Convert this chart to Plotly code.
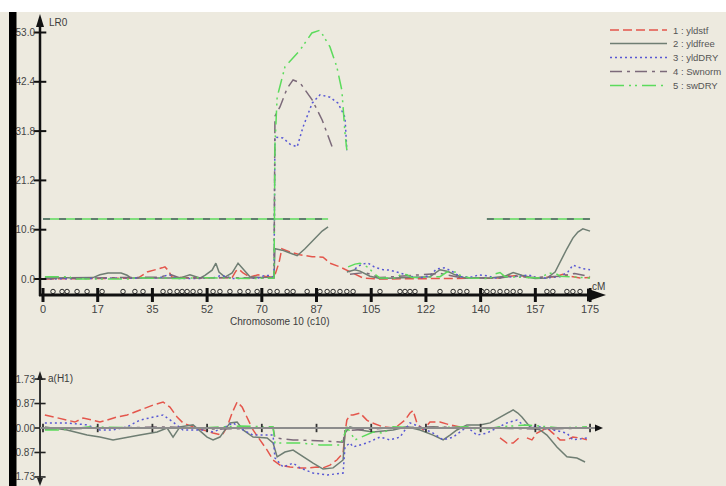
import plotly.graph_objects as go

# ---------------- data ----------------
# marker positions along chromosome 10 (cM)
marker_cm = [3.2, 6.1, 7.7, 10.9, 14.1, 18.9, 25.6, 29.4, 32.0, 38.4, 40.6, 42.9, 44.5,
             46.1, 48.0, 50.2, 54.4, 56.6, 59.8, 63.0, 65.6, 68.5, 72.6, 74.9, 78.1,
             80.0, 84.5, 88.6, 90.9, 92.8, 95.0, 97.2, 99.2, 107.8, 114.2, 115.8, 117.4,
             119.0, 127.0, 131.2, 133.4, 135.6, 140.4, 142.0, 144.0, 146.2, 148.4, 150.4,
             152.6, 161.2, 163.1, 167.6, 169.5, 171.8]

x_tickvals = [0, 17.5, 35, 52.5, 70, 87.5, 105, 122.5, 140, 157.5, 175]
x_ticktext = ["0", "17", "35", "52", "70", "87", "105", "122", "140", "157", "175"]

lr_tickvals = [0.0, 10.6, 21.2, 31.8, 42.4, 53.0]
lr_ticktext = ["0.0", "10.6", "21.2", "31.8", "42.4", "53.0"]

eff_tickvals = [1.73, 0.865, 0.0, -0.865, -1.73]
eff_ticktext = ["1.73", "0.87", "0.00", "-0.87", "-1.73"]

# significance threshold (LR)
thr_cm = [0.0, 91.2, None, 142.0, 175.0]
thr_lr = [12.9, 12.9, None, 12.9, 12.9]

# LR profiles
lr_yldstf_cm = [0.6, 27.8, 30.4, 33.3, 35.8, 38.1, 39.0, 40.0, 41.3, 50.2, 60.5, 61.7, 62.7,
                64.0, 66.2, 68.8, 71.0, 73.3, 74.2, 75.5, 76.4, 79.0, 82.2, 86.1, 89.6, 91.8,
                95.0, 97.2, 99.8, 102.4, 107.8, 146.2, 147.8, 149.4, 152.6, 155.8, 163.8,
                166.3, 168.6, 171.8, 175.0]
lr_yldstf = [0.0, 0.2, 0.2, 1.5, 1.9, 2.4, 2.6, 1.9, 0.4, 0.2, 0.3, 1.7, 2.1,
             1.3, 0.4, 0.9, 0.6, 0.4, 0.9, 3.5, 6.5, 5.8, 5.2, 4.8, 4.7, 3.4,
             2.6, 1.9, 0.9, 0.2, 0.0, 0.2, 0.9, 0.6, 0.8, 0.2, 0.5,
             1.0, 0.6, 0.2, 0.3]

lr_yldfree_cm = [0.6, 16.0, 18.2, 20.8, 23.0, 25.0, 26.9, 28.2, 42.2, 44.1, 47.0, 48.6, 50.2,
                 51.8, 54.1, 55.3, 56.3, 58.2, 60.5, 62.4, 64.0, 66.2, 69.4, 72.6, 73.9,
                 74.2, 76.5, 79.0, 81.3, 83.8, 87.0, 89.3, 91.2, None,
                 97.2, 99.8, 101.4, 104.6, 107.8, 123.8, 127.0, 129.6, 131.8, 135.0, 143.0,
                 147.8, 150.4, 153.2, 157.4, 161.2, 163.8, 166.0, 167.6, 169.5, 171.1, 172.7,
                 174.3, 175.0]
lr_yldfree = [0.2, 0.3, 0.9, 1.3, 1.3, 1.3, 0.8, 0.2, 0.2, 0.3, 0.9, 0.6, 0.2,
              0.8, 1.9, 3.4, 1.5, 0.4, 1.3, 3.4, 2.2, 0.5, 0.3, 0.4, 0.4,
              6.5, 6.2, 5.6, 5.0, 6.5, 8.6, 10.3, 11.2, None,
              1.5, 2.0, 1.7, 0.6, 0.1, 0.5, 2.0, 1.6, 0.9, 0.2, 0.2,
              0.6, 1.4, 0.8, 0.1, 0.2, 1.5, 4.5, 6.5, 8.8, 10.1, 10.8,
              10.5, 10.3]

lr_ylddry_cm = [0.6, 18.2, 37.4, 40.0, 41.3, 42.5, 50.2, 55.0, 56.6, 58.5, 60.5, 68.8, 71.0,
                72.9, 73.9, 74.2, 76.8, 79.0, 81.3, 83.2, 86.1, 88.6, 91.8, 94.4, 96.6, 97.2,
                None, 99.8, 102.0, 104.0, 106.2, 108.8, 111.0, 114.2, 117.4, 120.6, 123.8,
                126.0, 128.6, 131.2, 133.4, 137.6, 139.2, 142.0, 144.6, 152.6, 155.2, 157.4,
                160.6, 165.4, 167.9, 169.5, 171.1, 172.7, 175.0]
lr_ylddry = [0.0, 0.1, 0.3, 0.9, 0.7, 0.1, 0.1, 0.3, 0.7, 0.6, 0.1, 0.2, 0.8,
             0.7, 0.2, 30.5, 30.3, 29.0, 28.4, 32.7, 37.8, 39.6, 39.1, 37.8, 34.8, 27.7,
             None, 2.2, 3.2, 3.4, 2.5, 2.0, 1.9, 1.3, 0.6, 0.2, 0.8,
             2.2, 2.4, 1.5, 0.5, 0.4, 0.9, 0.7, 0.2, 0.6, 0.9, 0.4,
             0.2, 0.5, 1.5, 3.0, 2.6, 2.2, 2.0]

lr_swnorm_cm = [0.6, 37.4, 40.6, 43.8, 58.2, 72.6, 73.9, 74.2, 75.8, 78.1, 80.0, 82.2, 86.1,
                89.3, 92.5, None, 98.2, 103.0, 107.8, 127.0, 133.4, 146.2, 150.9, 155.8,
                165.4, 170.1, 175.0]
lr_swnorm = [0.1, 0.4, 1.0, 0.2, 0.3, 0.3, 0.2, 35.0, 37.0, 41.0, 42.8, 42.2, 38.5,
             34.2, 28.4, None, 1.0, 1.4, 0.3, 1.2, 0.3, 0.2, 0.7, 0.3,
             0.6, 1.2, 0.5]

lr_swdry_cm = [0.6, 8.6, 9.3, 27.8, 30.1, 32.6, 43.8, 50.2, 58.2, 66.2, 73.9, 74.2, 74.9,
               77.4, 82.2, 86.0, 88.6, 91.8, 94.0, 95.6, 96.6, 97.2, None,
               97.6, 99.8, 101.4, 104.0, 106.2, 107.8, 112.6, 114.8, 116.4, 118.0, 127.0,
               129.2, 131.8, 134.0, 136.6, 143.0, 144.6, 146.2, 147.8, 159.0, 161.5, 163.8,
               165.4, 175.0]
lr_swdry = [0.5, 0.5, 0.0, 0.0, 0.3, 0.2, 0.1, 0.3, 0.2, 0.1, 0.2, 28.8, 39.1,
            45.6, 49.2, 52.9, 53.5, 49.9, 45.6, 40.6, 31.4, 27.7, None,
            2.6, 3.2, 3.4, 2.5, 1.0, 0.2, 0.2, 1.1, 0.9, 0.3, 0.5,
            1.5, 1.5, 0.6, 0.2, 0.1, 1.1, 1.4, 0.5, 0.2, 1.2, 1.3,
            0.6, 0.2]

# additive effects a(H1)
eff_yldstf_cm = [0.6, 3.8, 7.7, 10.2, 12.8, 15.7, 18.2, 20.5, 23.7, 26.9, 31.0, 35.2, 38.4,
                 40.6, 42.9, 44.8, 48.0, 51.2, 54.4, 57.3, 58.9, 60.5, 62.1, 63.7, 65.3,
                 67.2, 69.4, 71.7, 73.6, 75.8, 79.0, 82.2, 85.4, 87.7, 89.6, 91.8, 94.0,
                 96.0, 96.6, 97.2, 98.2, 99.2, 101.4, 103.6, 104.6, 106.8, 108.8, 112.6,
                 115.8, 117.4, 118.4, 119.6, 121.6, 123.8, 127.0, 130.2, 133.4, None,
                 146.2, 148.4, 150.4, 152.6, None, 154.8, 156.4, 158.0, 161.2, 163.1,
                 165.4, 167.6, 169.5, 171.8, 174.0]
eff_yldstf = [0.46, 0.39, 0.28, 0.21, 0.35, 0.28, 0.21, 0.28, 0.39, 0.46, 0.64, 0.81, 0.92,
              0.74, 0.39, 0.18, 0.04, -0.07, -0.18, -0.25, 0.04, 0.53, 0.92, 0.74, 0.39,
              -0.07, -0.42, -0.78, -1.13, -1.31, -1.38, -1.41, -1.41, -1.38, -1.41, -1.31,
              -1.13, -0.88, -0.18, 0.28, 0.46, 0.46, 0.53, 0.28, 0.21, 0.11, 0.04, 0.0,
              0.28, 0.53, 0.62, 0.18, -0.07, 0.21, 0.21, 0.11, 0.04, None,
              -0.35, -0.53, -0.53, -0.32, None, -0.35, -0.42, -0.18, 0.0, -0.18,
              -0.42, -0.42, -0.32, -0.35, -0.42]

eff_yldfree_cm = [0.6, 7.7, 14.1, 18.2, 22.4, 26.9, 31.0, 36.5, 39.7, 41.6, 43.8, 48.0,
                  52.5, 54.4, 56.6, 59.8, 62.1, 64.0, 67.2, 71.7, 73.6, 74.9, 77.4, 80.0,
                  83.2, 86.4, 89.6, 92.8, 96.0, 96.6, 98.2, 101.4, 105.6, 112.0, 116.4,
                  120.6, 124.8, 128.0, 130.2, 132.4, 135.6, 139.8, 143.0, 146.2, 148.4,
                  150.4, 151.9, 153.2, 155.8, 159.0, 161.2, 164.4, 167.6, 170.8, 173.4]
eff_yldfree = [0.04, -0.07, -0.25, -0.32, -0.42, -0.32, -0.25, -0.14, 0.0, -0.32, 0.04, 0.11,
               -0.32, -0.42, -0.32, 0.18, 0.21, -0.07, -0.32, -0.35, -0.53, -1.02, -0.85, -0.78,
               -1.02, -1.24, -1.45, -1.41, -1.13, -0.18, 0.04, -0.07, -0.14, -0.07, 0.04,
               -0.07, -0.25, -0.42, -0.25, -0.07, 0.11, 0.11, 0.18, 0.39, 0.53,
               0.64, 0.53, 0.39, 0.04, -0.07, -0.25, -0.67, -1.02, -1.06, -1.20]

eff_ylddry_cm = [0.6, 7.7, 14.1, 18.2, 22.4, 26.9, 31.0, 35.2, 38.4, 41.6, 44.8, 48.0, 51.2,
                 54.4, 57.6, 60.8, 64.0, 67.2, 73.6, 74.2, 76.8, 80.0, 82.2, 86.4, 90.9,
                 96.0, 96.6, 98.2, 99.2, 103.6, 107.8, 111.0, 114.2, 117.4, 120.6, 124.8,
                 128.0, 131.2, 135.6, 138.8, 142.0, 145.2, 148.4, 151.6, 153.6, 159.0,
                 163.1, 167.6, 169.5, 174.0]
eff_ylddry = [0.18, 0.18, 0.11, -0.07, -0.07, 0.04, 0.28, 0.39, 0.46, 0.21, -0.07, -0.07, -0.07,
              -0.14, 0.0, 0.18, -0.07, -0.25, -0.25, -1.06, -1.38, -1.24, -1.41, -1.59, -1.66,
              -1.59, -0.67, -0.53, -0.67, -0.53, -0.32, -0.42, -0.32, 0.18, 0.04, -0.18,
              -0.42, -0.32, 0.04, -0.25, -0.18, 0.0, 0.18, 0.28, 0.11, 0.04,
              -0.07, -0.18, -0.42, -0.35]

eff_swnorm_cm = [0.6, 20.0, 40.0, 55.0, 70.0, 73.6, 74.2, 80.0, 90.0, 96.0, 96.6, 100.0,
                 110.0, 125.0, 140.0, 160.0, 174.0]
eff_swnorm = [-0.04, 0.0, 0.04, -0.04, 0.0, 0.0, -0.35, -0.42, -0.46, -0.50, -0.10, -0.07,
              0.0, 0.04, 0.0, -0.04, 0.0]

eff_swdry_cm = [0.6, 5.4, 15.0, 34.2, 50.2, 63.0, 71.7, 73.6, 74.2, 82.2, 88.6, 95.0, 96.6,
                97.2, 99.8, 105.6, 108.8, 112.0, 120.6, 135.6, 139.8, 146.2, 154.8, 165.4,
                174.0]
eff_swdry = [-0.07, -0.07, 0.04, 0.0, 0.0, 0.07, 0.04, 0.04, -0.53, -0.53, -0.60, -0.60, -0.18,
             0.04, -0.42, -0.14, -0.18, 0.04, 0.0, 0.04, -0.07, 0.04, 0.11, 0.0,
             0.04]

trait_names = ["1 : yldstf", "2 : yldfree", "3 : yldDRY", "4 : Swnorm", "5 : swDRY"]
trait_colors = ["#E4564C", "#6F7E73", "#5858D4", "#7C6A7A", "#5CDB5C"]
trait_dash = ["9px,4px", "solid", "2px,3px", "12px,5px,3px,5px", "14px,5px,2px,4px,2px,5px"]

lr_series = [(lr_yldstf_cm, lr_yldstf), (lr_yldfree_cm, lr_yldfree), (lr_ylddry_cm, lr_ylddry),
             (lr_swnorm_cm, lr_swnorm), (lr_swdry_cm, lr_swdry)]
eff_series = [(eff_yldstf_cm, eff_yldstf), (eff_yldfree_cm, eff_yldfree),
              (eff_ylddry_cm, eff_ylddry), (eff_swnorm_cm, eff_swnorm), (eff_swdry_cm, eff_swdry)]

# ---------------- layout geometry ----------------
W, H = 726, 486
BG = "#EDEADF"
TXT = "#3C3C3C"
FONT = "Liberation Sans"


def px(x):
    return x / W


def py(y):
    return 1 - y / H


# pixel calibration of the two panels
CM0_PX, PX_PER_CM = 43.0, 3.126
X_RANGE = [(40 - CM0_PX) / PX_PER_CM, (600 - CM0_PX) / PX_PER_CM]
LR0_PX, PX_PER_LR = 279.0, 4.651
Y_RANGE = [(LR0_PX - 295) / PX_PER_LR, (LR0_PX - 15) / PX_PER_LR]
EF0_PX, PX_PER_EF = 428.0, 28.3
Y2_RANGE = [(EF0_PX - 486) / PX_PER_EF, (EF0_PX - 372) / PX_PER_EF]
MARKER_Y = (LR0_PX - 291.5) / PX_PER_LR

fig = go.Figure()

# threshold lines
fig.add_trace(go.Scatter(x=thr_cm, y=thr_lr, mode="lines", line=dict(color="#5CDB5C", width=1.6),
                         xaxis="x", yaxis="y", showlegend=False, hoverinfo="skip"))
fig.add_trace(go.Scatter(x=thr_cm, y=thr_lr, mode="lines",
                         line=dict(color="#55606A", width=1.4, dash="7px,9px"),
                         xaxis="x", yaxis="y", showlegend=False, hoverinfo="skip"))

# LR profiles
for name, col, dsh, (xs, ys) in zip(trait_names, trait_colors, trait_dash, lr_series):
    fig.add_trace(go.Scatter(x=xs, y=ys, mode="lines", name=name,
                             line=dict(color=col, width=1.5, dash=dsh),
                             xaxis="x", yaxis="y", showlegend=False, connectgaps=False))

# effect profiles
for name, col, dsh, (xs, ys) in zip(trait_names, trait_colors, trait_dash, eff_series):
    fig.add_trace(go.Scatter(x=xs, y=ys, mode="lines", name=name,
                             line=dict(color=col, width=1.5, dash=dsh),
                             xaxis="x2", yaxis="y2", showlegend=False, connectgaps=False))

# markers on the chromosome axis
fig.add_trace(go.Scatter(x=marker_cm, y=[MARKER_Y] * len(marker_cm), mode="markers",
                         marker=dict(symbol="circle-open", size=4.5, color="#2A2A2A",
                                     line=dict(width=1.0, color="#2A2A2A")),
                         xaxis="x", yaxis="y", showlegend=False, cliponaxis=False))

# tick crosses on axes
fig.add_trace(go.Scatter(x=x_tickvals, y=[Y_RANGE[0]] * len(x_tickvals), mode="markers",
                         marker=dict(symbol="line-ns", size=10, line=dict(width=3, color="#111")),
                         xaxis="x", yaxis="y", showlegend=False, cliponaxis=False))
fig.add_trace(go.Scatter(x=[X_RANGE[0]] * len(lr_tickvals), y=lr_tickvals, mode="markers",
                         marker=dict(symbol="line-ew", size=9, line=dict(width=2, color="#111")),
                         xaxis="x", yaxis="y", showlegend=False, cliponaxis=False))
fig.add_trace(go.Scatter(x=[X_RANGE[0]] * len(eff_tickvals), y=eff_tickvals, mode="markers",
                         marker=dict(symbol="line-ew", size=8, line=dict(width=1.6, color="#222")),
                         xaxis="x2", yaxis="y2", showlegend=False, cliponaxis=False))
fig.add_trace(go.Scatter(x=x_tickvals, y=[0] * len(x_tickvals), mode="markers",
                         marker=dict(symbol="line-ns", size=6, line=dict(width=1.8, color="#333")),
                         xaxis="x2", yaxis="y2", showlegend=False, cliponaxis=False))

# legend samples
legend_rows = [30, 43.5, 57.5, 71.5, 85.5]
for name, col, dsh, ly in zip(trait_names, trait_colors, trait_dash, legend_rows):
    fig.add_trace(go.Scatter(x=[610, 667], y=[ly, ly], mode="lines",
                             line=dict(color=col, width=1.5, dash=dsh),
                             xaxis="x3", yaxis="y3", showlegend=False, hoverinfo="skip"))

annotations = []
for name, ly in zip(trait_names, legend_rows):
    annotations.append(dict(x=px(671), y=py(ly), xref="paper", yref="paper", text=name,
                            showarrow=False, xanchor="left", yanchor="middle",
                            font=dict(family=FONT, size=9.5, color="#555")))
annotations += [
    dict(x=px(47), y=py(22), xref="paper", yref="paper", text="LR0", showarrow=False,
         xanchor="left", yanchor="middle", font=dict(family=FONT, size=10, color=TXT)),
    dict(x=px(590), y=py(286), xref="paper", yref="paper", text="cM", showarrow=False,
         xanchor="left", yanchor="middle", font=dict(family=FONT, size=10, color=TXT)),
    dict(x=px(279), y=py(321), xref="paper", yref="paper", text="Chromosome 10 (c10)",
         showarrow=False, xanchor="center", yanchor="middle",
         font=dict(family=FONT, size=10, color=TXT)),
    dict(x=px(46), y=py(378), xref="paper", yref="paper", text="a(H1)", showarrow=False,
         xanchor="left", yanchor="middle", font=dict(family=FONT, size=10, color=TXT)),
]


def tri(points):
    return "M " + " L ".join(f"{px(a)},{py(b)}" for a, b in points) + " Z"


shapes = [
    # white strip on top
    dict(type="rect", xref="paper", yref="paper", x0=0, x1=1, y0=py(12), y1=1,
         fillcolor="white", line_width=0, layer="below"),
    # window frame bar on the left
    dict(type="rect", xref="paper", yref="paper", x0=px(9), x1=px(16.5), y0=0, y1=py(12),
         fillcolor="black", line_width=0, layer="above"),
    # LR axis
    dict(type="line", xref="paper", yref="paper", x0=px(40), x1=px(40), y0=py(24), y1=py(296),
         line=dict(color="#111", width=2.5)),
    dict(type="path", xref="paper", yref="paper", path=tri([(36, 27), (44, 27), (40, 14)]),
         fillcolor="#111", line_width=0),
    # chromosome axis
    dict(type="line", xref="paper", yref="paper", x0=px(39), x1=px(592), y0=py(295), y1=py(295),
         line=dict(color="#111", width=3)),
    dict(type="path", xref="paper", yref="paper", path=tri([(587, 288.5), (587, 301.5), (606, 295)]),
         fillcolor="#111", line_width=0),
    # effect axis
    dict(type="line", xref="paper", yref="paper", x0=px(40), x1=px(40), y0=py(378), y1=py(480),
         line=dict(color="#222", width=1.8)),
    dict(type="path", xref="paper", yref="paper", path=tri([(37, 380), (43, 380), (40, 371)]),
         fillcolor="#222", line_width=0),
    dict(type="path", xref="paper", yref="paper", path=tri([(37, 478), (43, 478), (40, 486)]),
         fillcolor="#222", line_width=0),
    # effect zero line
    dict(type="line", xref="paper", yref="paper", x0=px(40), x1=px(596), y0=py(428), y1=py(428),
         line=dict(color="#8C8C8C", width=2)),
    dict(type="path", xref="paper", yref="paper", path=tri([(595, 424.5), (595, 431.5), (603, 428)]),
         fillcolor="#111", line_width=0),
]

common = dict(showgrid=False, zeroline=False, showline=False, ticks="")

fig.update_layout(
    width=W, height=H,
    margin=dict(l=0, r=0, t=0, b=0),
    paper_bgcolor=BG, plot_bgcolor="rgba(0,0,0,0)",
    font=dict(family=FONT, color=TXT),
    showlegend=False,
    xaxis=dict(domain=[px(40), px(600)], range=X_RANGE, anchor="y",
               tickmode="array", tickvals=x_tickvals, ticktext=x_ticktext,
               tickfont=dict(family=FONT, size=11, color="#444"), ticklabelstandoff=6, **common),
    yaxis=dict(domain=[py(295), py(15)], range=Y_RANGE, anchor="x",
               tickmode="array", tickvals=lr_tickvals, ticktext=lr_ticktext,
               tickfont=dict(family=FONT, size=10, color="#444"), ticklabelstandoff=4, **common),
    xaxis2=dict(domain=[px(40), px(600)], range=X_RANGE, anchor="y2",
                showticklabels=False, **common),
    yaxis2=dict(domain=[0, py(372)], range=Y2_RANGE, anchor="x2",
                tickmode="array", tickvals=eff_tickvals, ticktext=eff_ticktext,
                tickfont=dict(family=FONT, size=10, color="#444"), ticklabelstandoff=4, **common),
    xaxis3=dict(domain=[0, 1], range=[0, W], anchor="y3", visible=False),
    yaxis3=dict(domain=[0, 1], range=[H, 0], anchor="x3", visible=False),
    shapes=shapes,
    annotations=annotations,
)

fig.write_html("out.html")
